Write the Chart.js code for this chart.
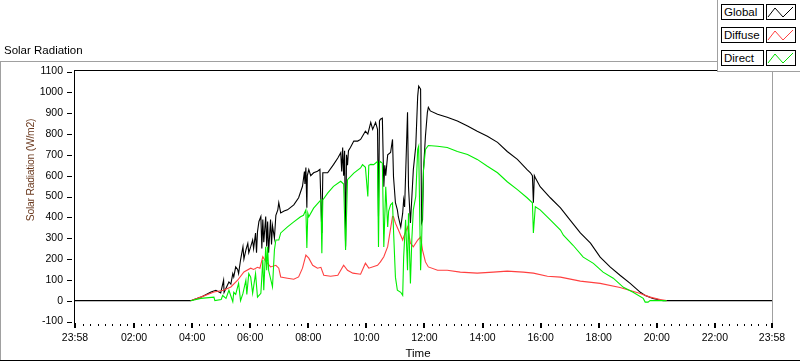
<!DOCTYPE html>
<html><head><meta charset="utf-8">
<script src="https://cdn.jsdelivr.net/npm/chart.js@4"></script>
<style>
html,body{margin:0;padding:0;background:#fff;}
#wrap{position:relative;width:800px;height:361px;overflow:hidden;font-family:"Liberation Sans",Arial,sans-serif;color:#000;}
canvas{position:absolute;left:0;top:0;}
.fr{position:absolute;}
#title{position:absolute;left:4px;top:43px;font-size:11.5px;line-height:14px;white-space:nowrap;}
#ytitle{position:absolute;left:-69.5px;top:164px;width:200px;text-align:center;font-size:10.4px;letter-spacing:-0.25px;line-height:12px;color:#6b3a1f;transform:rotate(-90deg);white-space:nowrap;}
#xtitle{position:absolute;left:368px;top:346px;width:100px;text-align:center;font-size:11.5px;line-height:14px;}
#legend{position:absolute;left:717px;top:0;width:83px;height:71px;background:#fff;border-left:1px solid #a0a0a0;border-bottom:1px solid #a0a0a0;}
.lg{position:absolute;left:3px;width:39px;height:14px;border:1px solid #000;padding-left:2px;font-size:11.5px;line-height:14px;background:#fff;}
.sw{position:absolute;left:48px;width:28px;height:14px;border:1px solid #000;background:#fff;}
.sw svg{position:absolute;left:0;top:0;}
</style></head>
<body><div id="wrap">
<canvas id="c" width="800" height="361"></canvas>
<div class="fr" style="left:0;top:61px;width:718px;height:1px;background:#a0a0a0"></div>
<div class="fr" style="left:0;top:61px;width:1px;height:299px;background:#a0a0a0"></div>
<div class="fr" style="left:0;top:360px;width:800px;height:1px;background:#000"></div>
<div id="title">Solar Radiation</div>
<div id="ytitle">Solar Radiation (W/m2)</div>
<div id="xtitle">Time</div>
<div id="legend">
  <div class="lg" style="top:4px">Global</div>
  <div class="sw" style="top:4px"><svg width="28" height="14"><polyline points="1,12 8,3 16,12 26,2" fill="none" stroke="#000" stroke-width="1"/></svg></div>
  <div class="lg" style="top:27px">Diffuse</div>
  <div class="sw" style="top:27px"><svg width="28" height="14"><polyline points="1,12 8,3 16,12 26,2" fill="none" stroke="#ff4040" stroke-width="1"/></svg></div>
  <div class="lg" style="top:50px">Direct</div>
  <div class="sw" style="top:50px"><svg width="28" height="14"><polyline points="1,12 8,3 16,12 26,2" fill="none" stroke="#00e000" stroke-width="1"/></svg></div>
</div>
</div>
<script>
// ---- tick definitions ----
const xTickTimes  = ["-00:02","02:00","04:00","06:00","08:00","10:00","12:00","14:00","16:00","18:00","20:00","22:00","23:58"];
const xTickLabels = ["23:58","02:00","04:00","06:00","08:00","10:00","12:00","14:00","16:00","18:00","20:00","22:00","23:58"];
const yTickValues = [-100,0,100,200,300,400,500,600,700,800,900,1000,1100];

// ---- Global (black) ----
const globalTimes = [
"-00:02","03:57","04:18","04:39","04:49","04:59","05:05","05:06","05:10","05:16",
"05:20","05:24","05:26","05:30","05:34","05:36","05:40","05:45","05:47","05:51",
"05:55","05:57","06:01","06:05","06:07","06:11","06:13","06:15","06:18","06:22",
"06:24","06:26","06:28","06:32","06:34","06:36","06:38","06:42","06:44","06:46",
"06:50","06:53","06:57","06:59","07:03","07:10","07:17","07:30","07:40","07:48",
"07:52","07:53","07:55","07:57","07:58","08:01","08:05","08:11","08:19","08:24",
"08:28","08:30","08:40","08:52","09:01","09:07","09:09","09:11","09:13","09:15",
"09:17","09:19","09:21","09:23","09:27","09:34","09:42","09:48","09:54","09:58",
"10:03","10:09","10:13","10:19","10:23","10:25","10:27","10:29","10:33","10:36",
"10:38","10:40","10:44","10:50","10:54","10:56","11:00","11:04","11:06","11:11",
"11:15","11:17","11:19","11:25","11:27","11:31","11:34","11:37","11:42","11:46",
"11:48","11:52","11:54","11:56","11:58","12:02","12:06","12:08","12:12","12:27",
"12:47","13:08","13:29","13:49","14:10","14:31","14:51","15:12","15:32","15:39",
"15:43","15:45","15:47","15:49","15:59","16:20","16:41","17:01","17:22","17:43",
"18:03","18:24","18:44","19:05","19:26","19:36","19:52","20:13","23:58"];
const globalValues = [
0,0,17,42,50,37,98,40,60,90,
80,130,114,162,150,130,195,259,200,243,
275,230,259,291,250,325,230,330,380,404,
250,390,280,404,260,380,230,390,270,360,
300,410,436,470,421,430,436,460,494,549,
620,560,639,446,600,629,600,614,621,630,
325,614,614,653,685,710,620,735,600,720,
260,700,650,720,735,766,766,774,798,814,
800,856,822,856,822,404,863,871,876,547,
650,600,700,711,774,596,470,436,403,354,
420,484,450,904,547,373,500,629,741,982,
1030,1015,373,388,629,789,904,928,911,895,
880,862,838,813,789,760,716,678,629,614,
600,470,600,590,547,494,445,387,325,276,
209,161,122,83,40,25,11,0,0];

// ---- Diffuse (red) ----
const diffuseTimes = [
"03:57","04:18","04:45","05:05","05:20","05:34","05:47","06:01","06:07","06:15",
"06:20","06:26","06:30","06:42","06:53","06:59","07:03","07:17","07:30","07:40",
"07:48","07:55","08:01","08:09","08:19","08:26","08:32","08:46","09:01","09:13",
"09:21","09:32","09:48","09:58","10:05","10:23","10:29","10:36","10:44","10:54",
"10:56","11:00","11:06","11:15","11:17","11:25","11:31","11:37","11:46","11:52",
"11:56","12:02","12:08","12:27","12:47","13:14","13:49","14:22","14:51","15:24",
"15:45","16:14","16:41","17:22","18:03","18:44","19:26","19:46","20:07","20:20"];
const diffuseValues = [
0,17,42,50,66,98,138,156,150,160,
156,211,195,162,170,156,114,108,103,114,
156,219,204,170,156,160,122,117,122,170,
146,132,127,180,156,170,186,211,259,404,
403,372,340,291,306,354,276,258,291,306,
243,186,162,146,146,137,132,137,142,137,
132,117,113,94,83,63,34,17,5,0];

// ---- Direct (green) ----
const directTimes = [
"03:57","04:18","04:45","04:47","05:00","05:03","05:10","05:16","05:24","05:26",
"05:30","05:34","05:36","05:40","05:45","05:51","05:53","05:57","06:01","06:05",
"06:11","06:15","06:22","06:26","06:28","06:32","06:34","06:36","06:38","06:46",
"06:50","06:53","06:59","07:03","07:17","07:30","07:44","07:50","07:55","07:57",
"07:59","08:01","08:11","08:26","08:28","08:30","08:40","08:52","09:07","09:13",
"09:17","09:21","09:34","09:48","09:52","09:58","10:03","10:05","10:09","10:15",
"10:23","10:25","10:27","10:29","10:33","10:36","10:40","10:44","10:46","10:50",
"10:54","10:56","11:00","11:04","11:11","11:15","11:17","11:21","11:25","11:27",
"11:31","11:34","11:37","11:42","11:46","11:48","11:52","11:54","11:56","11:58",
"12:02","12:08","12:27","12:47","13:08","13:29","13:49","14:10","14:31","14:51",
"15:12","15:32","15:43","15:45","15:49","15:59","16:20","16:41","16:47","17:07",
"17:28","17:49","18:09","18:30","18:51","19:11","19:32","19:36","19:42","19:46",
"20:13","20:20"];
const directValues = [
0,11,17,0,5,25,11,50,-5,40,
30,66,83,0,35,98,30,130,113,35,
130,17,35,195,50,259,146,259,146,66,
243,291,291,325,354,378,403,410,436,253,
420,403,444,484,228,484,516,549,573,560,
243,581,612,637,653,640,500,650,654,653,
668,258,661,668,660,258,547,354,430,460,
470,340,113,50,40,25,209,388,146,420,
83,300,436,500,726,741,146,276,470,629,
726,745,741,735,716,702,678,645,614,571,
533,494,470,325,451,436,388,339,314,266,
209,179,137,108,64,40,11,-7,-7,0,
0,0];

function toMin(t){const neg=t.startsWith('-');const p=t.replace('-','').split(':').map(Number);return (neg?-1:1)*(p[0]*60+p[1]);}
function pts(times,vals){return times.map((t,i)=>({x:toMin(t),y:vals[i]}));}
const xTickValues = xTickTimes.map(toMin);

const axisPlugin = {
  id:'axisPlugin',
  afterDatasetsDraw(chart){
    const ctx=chart.ctx, xs=chart.scales.x, ys=chart.scales.y;
    const a=chart.chartArea;
    ctx.save();
    ctx.lineWidth=1;
    ctx.strokeStyle='#000';
    ctx.beginPath();
    ctx.moveTo(a.left-1, 70.5); ctx.lineTo(a.right, 70.5);
    ctx.moveTo(74.5, 70); ctx.lineTo(74.5, Math.round(a.bottom)+1);
    ctx.stroke();
    ctx.strokeStyle='#a0a0a0';
    ctx.beginPath();
    ctx.moveTo(Math.round(a.right)+0.5, 70); ctx.lineTo(Math.round(a.right)+0.5, Math.round(a.bottom)+1);
    ctx.stroke();
    ctx.strokeStyle='#000';
    ctx.beginPath();
    yTickValues.forEach(v=>{const y=Math.round(ys.getPixelForValue(v))+0.5;ctx.moveTo(67,y);ctx.lineTo(72,y);});
    ctx.stroke();
    ctx.fillStyle='#000';
    const yb=Math.round(a.bottom)+1;
    xTickValues.forEach(v=>{const x=Math.round(xs.getPixelForValue(v));ctx.fillRect(x-1,yb,2,5);});
    for(let m=15;m<1438;m+=15){
      if(xTickValues.some(v=>Math.abs(v-m)<5)) continue;
      const x=Math.round(xs.getPixelForValue(m));
      ctx.fillRect(x,yb+1,1,2);
    }
    ctx.restore();
  }
};

const tickFont={family:'"Liberation Sans", Arial, sans-serif',size:10.5};
new Chart(document.getElementById('c'),{
  type:'line',
  data:{datasets:[
    {label:'Direct',data:pts(directTimes,directValues),borderColor:'#00ee00',order:0},
    {label:'Diffuse',data:pts(diffuseTimes,diffuseValues),borderColor:'#ff4040',order:1},
    {label:'Global',data:pts(globalTimes,globalValues),borderColor:'#000000',order:2}
  ]},
  options:{
    responsive:false,animation:false,devicePixelRatio:1,
    layout:{padding:{left:0,right:28,top:71.5,bottom:0}},
    plugins:{legend:{display:false},tooltip:{enabled:false},title:{display:false}},
    elements:{point:{radius:0},line:{borderWidth:1.1,tension:0,fill:false}},
    scales:{
      x:{type:'linear',min:-2,max:1438,
        grid:{display:false,drawTicks:false},border:{display:false},
        afterBuildTicks:s=>{s.ticks=xTickValues.map(v=>({value:v}));},
        afterFit:s=>{s.height=39.5;},
        ticks:{autoSkip:false,maxRotation:0,minRotation:0,padding:10,color:'#000',font:tickFont,
          callback:(v,i)=>xTickLabels[i]}
      },
      y:{type:'linear',min:-100,max:1100,
        grid:{display:false,drawTicks:false},border:{display:false},
        afterBuildTicks:s=>{s.ticks=yTickValues.map(v=>({value:v}));},
        afterFit:s=>{s.width=75;},
        ticks:{padding:12,color:'#000',font:tickFont,callback:v=>String(v)}
      }
    }
  },
  plugins:[axisPlugin]
});
</script>
</body></html>
